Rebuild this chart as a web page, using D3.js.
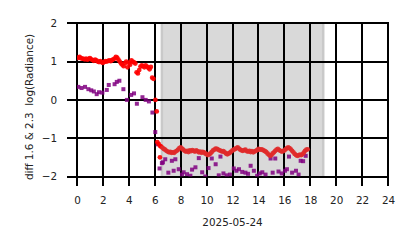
<!DOCTYPE html>
<html>
<head>
<meta charset="utf-8">
<script src="https://cdn.jsdelivr.net/npm/d3@7"></script>
<style>
  body { margin: 0; background: #fff; }
  svg { display: block; font-family: "DejaVu Sans", sans-serif; }
</style>
</head>
<body>
<svg id="chart" width="414" height="248"></svg>
<script>
// red = diff 1.6 & 2.3, sampled every 6 minutes (hours of the day)
var redDayStart = 0.1;
var redDay = [1.10, 1.12, 1.09, 1.08, 1.07, 1.06, 1.08, 1.05, 1.07, 1.09,
  1.06, 1.04, 1.02, 1.05, 1.03, 1.00, 0.99, 1.01, 0.98, 0.97,
  0.99, 1.01, 1.00, 1.02, 1.03, 1.01, 1.04, 1.06, 1.08, 1.12,
  1.10, 1.05, 1.00, 0.95, 0.92, 0.88, 0.96, 1.00, 0.85, 0.97,
  0.92, 1.03, 1.00, 0.98, 0.95, 0.72, 0.69, 0.78, 0.87, 0.90,
  0.88, 0.85, 0.90, 0.87, 0.84, 0.80, 0.86, 0.58, 0.55];
var redDusk = [[6.05, 0.0], [6.15, -0.3], [6.4, -1.5]];
var redNightStart = 6.2;
var redNight = [-1.10, -1.15, -1.20, -1.22, -1.25, -1.28, -1.30, -1.33, -1.35, -1.37,
  -1.36, -1.38, -1.37, -1.38, -1.35, -1.33, -1.30, -1.26, -1.24, -1.27,
  -1.30, -1.33, -1.35, -1.33, -1.36, -1.32, -1.34, -1.31, -1.33, -1.35,
  -1.32, -1.34, -1.37, -1.35, -1.38, -1.36, -1.37, -1.40, -1.42, -1.44,
  -1.42, -1.40, -1.36, -1.32, -1.30, -1.27, -1.28, -1.30, -1.32, -1.33,
  -1.35, -1.34, -1.37, -1.40, -1.42, -1.40, -1.38, -1.35, -1.32, -1.30,
  -1.28, -1.26, -1.24, -1.27, -1.30, -1.32, -1.33, -1.31, -1.30, -1.34,
  -1.35, -1.33, -1.36, -1.34, -1.37, -1.35, -1.33, -1.31, -1.28, -1.30,
  -1.29, -1.30, -1.32, -1.34, -1.36, -1.40, -1.43, -1.46, -1.44, -1.40,
  -1.37, -1.33, -1.30, -1.28, -1.31, -1.33, -1.35, -1.34, -1.32, -1.29,
  -1.26, -1.24, -1.26, -1.29, -1.33, -1.37, -1.41, -1.44, -1.46, -1.45,
  -1.43, -1.44, -1.42, -1.38, -1.33, -1.30, -1.29];

// purple series, irregular times
var purpleT = [0.1, 0.35, 0.62, 0.88, 1.1, 1.3, 1.52, 1.7, 1.96, 2.3, 2.45, 2.9, 3.07, 3.27,
  3.58, 3.85, 4.18, 4.4, 4.62, 5.05, 5.3, 5.55, 5.82, 6.04, 6.22, 6.37, 6.55,
  6.63, 6.81, 7.05, 7.32, 7.46, 7.59, 7.85, 8.1, 8.23, 8.49, 8.75, 8.88, 9.14, 9.4,
  9.66, 9.9, 10.15, 10.4, 10.7, 10.94, 11.07, 11.3, 11.55, 11.8, 12.1, 12.3, 12.5,
  12.75, 13.0, 13.2, 13.4, 13.65, 13.9, 14.1, 14.3, 14.55, 14.94, 15.1, 15.3, 15.55,
  15.8, 16.05, 16.2, 16.36, 16.6, 16.9, 17.1, 17.26, 17.45, 17.65];
var purpleV = [0.34, 0.31, 0.34, 0.28, 0.25, 0.22, 0.15, 0.2, 0.19, 0.26, 0.39, 0.41, 0.47, 0.5,
  0.28, 0.0, 0.13, 0.17, -0.1, 0.07, 0.0, -0.04, -0.33, -0.84, -1.16, -1.79, -1.65,
  -1.63, -1.55, -1.9, -1.59, -1.85, -1.55, -1.81, -1.95, -1.89, -1.94, -1.98, -1.82, -1.76, -1.52,
  -1.89, -2.0, -1.78, -1.53, -1.68, -1.97, -1.48, -1.92, -1.97, -1.95, -1.79, -1.85, -1.81,
  -1.88, -1.9, -1.93, -1.72, -1.85, -1.98, -1.92, -1.89, -1.95, -1.53, -1.9, -1.53, -1.87,
  -1.92, -1.85, -1.81, -1.48, -1.9, -1.85, -1.95, -1.59, -1.6, -1.46];

var night = [6.55, 19.0];
var xTicks = [0, 2, 4, 6, 8, 10, 12, 14, 16, 18, 20, 22, 24];
var yTicks = [-2, -1, 0, 1, 2];
var xTitle = "2025-05-24";
var yTitle = "diff 1.6 & 2.3  log(Radiance)";

var svg = d3.select("#chart");
var x = d3.scaleLinear().domain([0, 24]).range([77, 388]);
var y = d3.scaleLinear().domain([-2, 2]).range([176.5, 23.3]);

var defs = svg.append("defs");
defs.append("clipPath").attr("id", "plot")
  .append("rect")
  .attr("x", x(0)).attr("y", y(2))
  .attr("width", x(24) - x(0)).attr("height", y(-2) - y(2));

// night shading
svg.append("rect")
  .attr("x", x(night[0])).attr("y", y(2))
  .attr("width", x(night[1]) - x(night[0])).attr("height", y(-2) - y(2))
  .attr("fill", "#d9d9d9");
svg.selectAll(".edge").data(night).enter().append("rect")
  .attr("class", "edge")
  .attr("x", d => x(d) - 1.25).attr("width", 2.5)
  .attr("y", y(2)).attr("height", y(-2) - y(2))
  .attr("fill", "#c9c9c9");

// black grid as thin filled bars, running out past the axes as the ticks
var grid = svg.append("g");
grid.selectAll(".gx").data(xTicks).enter().append("rect")
  .attr("class", "gx")
  .attr("x", d => Math.round(x(d)) - 1).attr("width", 2)
  .attr("y", Math.round(y(2)) - 1).attr("height", 186 - Math.round(y(2)) + 1)
  .attr("fill", "#000");
grid.selectAll(".gy").data(yTicks).enter().append("rect")
  .attr("class", "gy")
  .attr("x", 67).attr("width", Math.round(x(24)) + 1 - 67)
  .attr("y", d => Math.round(y(d)) - 1).attr("height", 2)
  .attr("fill", "#000");

// tick labels
var xAxis = svg.append("g")
  .attr("transform", "translate(0,186)")
  .call(d3.axisBottom(x).tickValues(xTicks).tickSize(0).tickPadding(11)
    .tickFormat(d3.format("d")));
var yAxis = svg.append("g")
  .attr("transform", "translate(67,0)")
  .call(d3.axisLeft(y).tickValues(yTicks).tickSize(0).tickPadding(10)
    .tickFormat(d => d < 0 ? "\u2212" + Math.abs(d) : d));
[xAxis, yAxis].forEach(function(a) {
  a.select(".domain").remove();
  a.selectAll("line").remove();
  a.selectAll("text").attr("fill", "#222").style("font-size", "10.4px")
    .style("font-family", "DejaVu Sans");
});

var pts = svg.append("g").attr("clip-path", "url(#plot)");

var red = redDay.map((v, i) => [redDayStart + i * 0.1, v])
  .concat(redDusk)
  .concat(redNight.map((v, i) => [redNightStart + i * 0.1, v]));

pts.selectAll(".p").data(d3.zip(purpleT, purpleV)).enter().append("rect")
  .attr("class", "p")
  .attr("x", d => x(d[0]) - 2).attr("y", d => y(d[1]) - 2)
  .attr("width", 4).attr("height", 4)
  .attr("fill", "#800080").attr("fill-opacity", 0.85);

pts.selectAll(".r").data(red).enter().append("circle")
  .attr("class", "r")
  .attr("cx", d => x(d[0])).attr("cy", d => y(d[1]))
  .attr("r", 2.4)
  .attr("fill", d => d[0] > 6.5 ? "#e02a2a" : "#ff0000")
  .attr("fill-opacity", 0.9);

svg.append("text")
  .attr("x", (x(0) + x(24)) / 2).attr("y", 226)
  .attr("text-anchor", "middle")
  .style("font-size", "10.4px").attr("fill", "#222")
  .text(xTitle);

svg.append("text")
  .attr("transform", "translate(33,107) rotate(-90)")
  .attr("text-anchor", "middle")
  .style("font-size", "10.4px").style("white-space", "pre").attr("fill", "#222")
  .text(yTitle);
</script>
</body>
</html>
